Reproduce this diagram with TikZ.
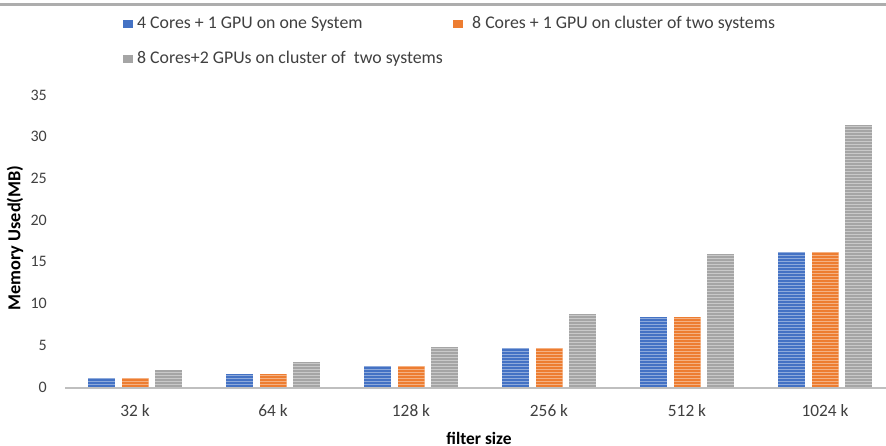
\documentclass[tikz,border=0pt]{standalone}
\usepackage{fontspec}
\setmainfont{Carlito}
\definecolor{serA}{HTML}{4472C4}
\definecolor{serB}{HTML}{ED7D31}
\definecolor{serC}{HTML}{A5A5A5}
\definecolor{axisgrey}{HTML}{BFBFBF}
\definecolor{rulegrey}{HTML}{ADADAD}
\definecolor{labelgrey}{HTML}{404040}
\tikzset{
  ticklabel/.style={anchor=east, inner sep=0pt, font=\fontsize{16}{19}\selectfont, text=labelgrey},
  catlabel/.style={anchor=center, inner sep=0pt, font=\fontsize{17.3}{20}\selectfont, text=labelgrey},
  legendtext/.style={anchor=west, inner sep=0pt, font=\fontsize{17.8}{21}\selectfont, text=labelgrey},
  axistitle/.style={inner sep=0pt, font=\fontsize{17.4}{21}\selectfont\bfseries, text=black},
  legendkey/.style={minimum width=9.5pt, minimum height=8.5pt, inner sep=0pt},
}
% one striped bar: colour, centre x, value
\newcommand\chartbar[3]{%
  \begin{scope}
    \clip ({#2-13.5},387) rectangle ({#2+13.5},{387-#3*8.34});
    \fill[#1] ({#2-13.5},387) rectangle ({#2+13.5},{387-#3*8.34});
    \foreach \k in {1,...,95}
      \draw[white, opacity=.4, line width=.9pt] ({#2-14},{387-\k*3}) -- ({#2+14},{387-\k*3});
  \end{scope}}
\begin{document}
\begin{tikzpicture}[x=1pt,y=-1pt]
\useasboundingbox (0,0) rectangle (886,446);
\fill[white] (0,0) rectangle (886,446);
% top rule
\draw[rulegrey, line width=3pt] (0,5) -- (886,5);

% legend
\node[legendkey, fill=serA] (kA) at (128,24) {};
\node[legendtext] (tA) at (137,24) {4 Cores + 1 GPU on one System};
\node[legendkey, fill=serB] (kB) at (458,24) {};
\node[legendtext] (tB) at (472,24) {8 Cores + 1 GPU on cluster of two systems};
\node[legendkey, fill=serC] (kC) at (128,59) {};
\node[legendtext] (tC) at (137,59) {8 Cores+2 GPUs on cluster of\ \ two systems};

% y tick labels
\foreach \v in {0,5,...,35}
  \node[ticklabel] (y\v) at (47,{387-\v*8.34}) {\v};

% bars
\foreach \c/\a/\b/\g [count=\i from 0] in
  {32 k/1.05/1.05/2.05, 64 k/1.55/1.55/3.0, 128 k/2.5/2.5/4.8,
   256 k/4.65/4.65/8.8, 512 k/8.35/8.35/15.95, 1024 k/16.15/16.15/31.45}{
  \pgfmathsetmacro\cx{135+138*\i}
  \chartbar{serA}{\cx-33.5}{\a}
  \chartbar{serB}{\cx}{\b}
  \chartbar{serC}{\cx+33.5}{\g}
  \node[catlabel] (c\i) at (\cx,411) {\c};
}

% category axis
\draw[axisgrey, line width=2pt] (65,388) -- (886,388);

% axis titles
\node[axistitle, rotate=90, font=\fontsize{18.3}{21}\selectfont\bfseries] (ytitle) at (15,238) {Memory Used(MB)};
\node[axistitle] (xtitle) at (479,438) {filter size};
\end{tikzpicture}
\end{document}
